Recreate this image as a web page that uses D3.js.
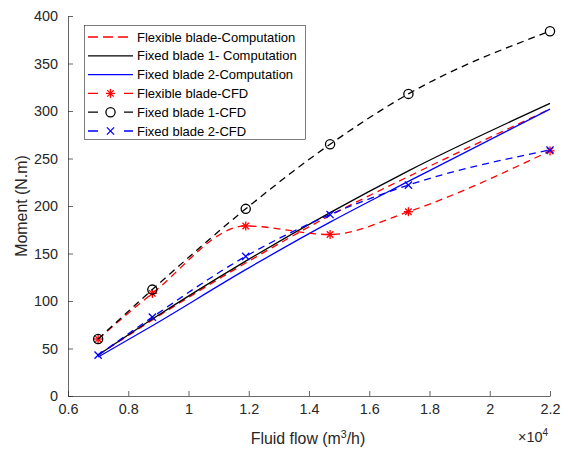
<!DOCTYPE html>
<html><head><meta charset="utf-8">
<script src="https://cdn.jsdelivr.net/npm/d3@7"></script>
<style>body{margin:0;background:#fff;}</style>
</head>
<body>
<svg id="chart" width="568" height="452"></svg>
<script>
// Data
const flow = [7000, 8800, 11900, 14700, 17300, 22000];
const flexComp   = [43, 80, 140, 190, 231, 302];
const fixed1Comp = [43, 81, 142, 193, 237, 308];
const fixed2Comp = [41, 74, 133, 183, 226, 302];
const flexCFD    = [60, 108, 179, 170, 194, 258];
const fixed1CFD  = [60, 112, 197, 265, 318, 384];
const fixed2CFD  = [43, 83, 147, 191, 222, 259];
const xTicks = [6000, 8000, 10000, 12000, 14000, 16000, 18000, 20000, 22000];
const xTickLabels = ["0.6","0.8","1","1.2","1.4","1.6","1.8","2","2.2"];
const yTicks = [0, 50, 100, 150, 200, 250, 300, 350, 400];

const series = [
  {name:"Flexible blade-Computation", y:flexComp, color:"#ff0000", dash:"7,5", marker:null},
  {name:"Fixed blade 1- Computation", y:fixed1Comp, color:"#000000", dash:null, marker:null},
  {name:"Fixed blade 2-Computation", y:fixed2Comp, color:"#0000ff", dash:null, marker:null},
  {name:"Flexible blade-CFD", y:flexCFD, color:"#ff0000", dash:"7,5", marker:"star"},
  {name:"Fixed blade 1-CFD", y:fixed1CFD, color:"#000000", dash:"7,5", marker:"circle"},
  {name:"Fixed blade 2-CFD", y:fixed2CFD, color:"#0000ff", dash:"7,5", marker:"cross"}
];

const FONT = "'Liberation Sans', Arial, Helvetica, sans-serif";
const svg = d3.select("#chart");
const L = 68, R = 550, T = 16, B = 396;
const x = d3.scaleLinear().domain([6000, 22000]).range([L, R]);
const y = d3.scaleLinear().domain([0, 400]).range([B, T]);

// Axes
const axisColor = "#262626";
const xAxis = d3.axisBottom(x).tickValues(xTicks).tickFormat((d,i)=>xTickLabels[i]).tickSizeInner(-5).tickSizeOuter(0).tickPadding(8);
const gx = svg.append("g").attr("transform",`translate(0,${B})`).call(xAxis);
const yAxis = d3.axisLeft(y).tickValues(yTicks).tickSizeInner(-5).tickSizeOuter(0).tickPadding(10);
const gy = svg.append("g").attr("transform",`translate(${L},0)`).call(yAxis);
[gx, gy].forEach(g=>{
  g.attr("font-family", null);
  g.select(".domain").attr("stroke",axisColor).attr("stroke-width",0.7);
  g.selectAll(".tick line").attr("stroke",axisColor).attr("stroke-width",0.7);
  g.selectAll(".tick text").attr("font-size",14.4).attr("fill",axisColor).style("font-family",FONT);
});

// Axis labels
svg.append("text").attr("x",308).attr("y",444).attr("text-anchor","middle").attr("font-size",15.9)
  .attr("fill",axisColor).style("font-family",FONT)
  .html('Fluid flow (m<tspan dy="-6" font-size="10.5">3</tspan><tspan dy="6">/h)</tspan>');
svg.append("text").attr("transform","translate(27,206) rotate(-90)").attr("text-anchor","middle")
  .attr("font-size",15.9).attr("fill",axisColor).style("font-family",FONT).text("Moment (N.m)");
svg.append("text").attr("x",518).attr("y",442).attr("font-size",14.4).attr("fill",axisColor).style("font-family",FONT)
  .html('×10<tspan dy="-6" font-size="10">4</tspan>');

// Marker drawing
function drawMarker(g, type, cx, cy, color){
  if(type==="circle"){
    g.append("circle").attr("cx",cx).attr("cy",cy).attr("r",4.6)
      .attr("fill","none").attr("stroke",color).attr("stroke-width",1.3);
  } else if(type==="star"){
    const r=4.5;
    [[r,0],[0,r],[r*0.72,r*0.72],[r*0.72,-r*0.72]].forEach(([dx,dy])=>{
      g.append("line").attr("x1",cx-dx).attr("y1",cy-dy).attr("x2",cx+dx).attr("y2",cy+dy)
        .attr("stroke",color).attr("stroke-width",1.3);
    });
  } else if(type==="cross"){
    const r=3.6;
    [[r,r],[r,-r]].forEach(([dx,dy])=>{
      g.append("line").attr("x1",cx-dx).attr("y1",cy-dy).attr("x2",cx+dx).attr("y2",cy+dy)
        .attr("stroke",color).attr("stroke-width",1.3);
    });
  }
}

const line = d3.line().x(d=>x(d[0])).y(d=>y(d[1])).curve(d3.curveMonotoneX);
const plot = svg.append("g");
series.forEach(s=>{
  const pts = flow.map((f,i)=>[f, s.y[i]]);
  plot.append("path").datum(pts).attr("d",line).attr("fill","none")
    .attr("stroke",s.color).attr("stroke-width",1.3)
    .attr("stroke-dasharray",s.dash);
  if(s.marker){
    pts.forEach(p=>drawMarker(plot, s.marker, x(p[0]), y(p[1]), s.color));
  }
});

// Legend
const lg = svg.append("g");
lg.append("rect").attr("x",84.5).attr("y",25.5).attr("width",221).attr("height",114)
  .attr("fill","#fff").attr("stroke","#262626").attr("stroke-width",0.6);
series.forEach((s,i)=>{
  const yy = 37 + i*18.8;
  lg.append("line").attr("x1",88).attr("x2",133).attr("y1",yy).attr("y2",yy)
    .attr("stroke",s.color).attr("stroke-width",1.3)
    .attr("stroke-dasharray", s.dash ? (s.marker ? "10,8" : "10,5") : null);
  if(s.marker){
    lg.append("rect").attr("x",104).attr("y",yy-5).attr("width",12).attr("height",10).attr("fill","#fff");
    drawMarker(lg, s.marker, 110.5, yy, s.color);
  }
  lg.append("text").attr("x",137).attr("y",yy+4.5).attr("font-size",13).attr("fill","#000")
    .style("font-family",FONT).text(s.name);
});
</script>
</body></html>
